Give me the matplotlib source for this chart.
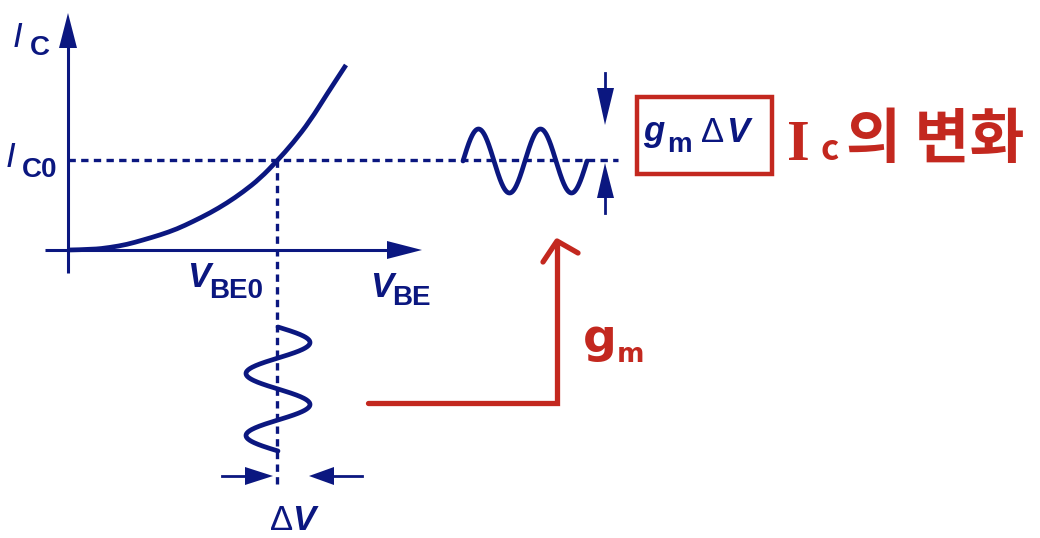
import numpy as np
import matplotlib
matplotlib.use("Agg")
import matplotlib.pyplot as plt
from matplotlib.patches import Polygon, Rectangle, PathPatch
from matplotlib.path import Path

# ---- data (diagram coordinates, pixels, y downward) ----
curve_x = [68, 93, 110, 127, 143, 160, 177, 193, 210, 227, 243, 260, 277, 293, 310, 327, 346]
curve_y = [250, 249.5, 247.5, 244.5, 240, 235, 229, 221.5, 213, 203, 192, 178.5, 161, 143, 121, 94, 65]
op_x, op_y = 277, 160          # operating point (VBE0, IC0)
wave_amp = 32                  # sine amplitude
wave_period = 62               # sine period
in_wave_start = 327            # vertical input wave start (y)
out_wave_start = 463           # horizontal output wave start (x)
n_periods = 2

BLUE = "#0b1780"
RED = "#c3281f"

fig = plt.figure(figsize=(10.4, 5.38), dpi=100)
ax = fig.add_axes([0, 0, 1, 1])
ax.set_xlim(0, 1040)
ax.set_ylim(538, 0)
ax.axis("off")

def tri(pts, color):
    ax.add_patch(Polygon(pts, closed=True, color=color, lw=0))

# axes
ax.plot([68, 68], [273, 45], color=BLUE, lw=2.2, solid_capstyle="butt")
tri([(59, 48), (77, 48), (68, 13)], BLUE)
ax.plot([45, 390], [250, 250], color=BLUE, lw=2.2, solid_capstyle="butt")
tri([(387, 241), (387, 259), (422, 250)], BLUE)

# dashed guide lines
dash = (0, (2.2, 1.6))
ax.plot([68, 618], [op_y, op_y], color=BLUE, lw=2.4, linestyle=dash, dash_capstyle="butt")
ax.plot([op_x, op_x], [op_y, 485], color=BLUE, lw=2.4, linestyle=dash, dash_capstyle="butt")

# I-V curve: smooth path drawn with the read points as quadratic control points
pts = list(zip(curve_x, curve_y))
verts = [pts[0]]
codes = [Path.MOVETO]
for i in range(1, len(pts) - 1):
    mid = ((pts[i][0] + pts[i + 1][0]) / 2, (pts[i][1] + pts[i + 1][1]) / 2)
    verts += [pts[i], mid]
    codes += [Path.CURVE3, Path.CURVE3]
verts.append(pts[-1])
codes.append(Path.LINETO)
ax.add_patch(PathPatch(Path(verts, codes), fill=False, edgecolor=BLUE, lw=3.4,
                       capstyle="butt", joinstyle="round"))

# input wave (vertical)
t = np.linspace(0, n_periods, 300)
ax.plot(op_x + 1 + wave_amp * np.sin(2 * np.pi * t), in_wave_start + wave_period * t,
        color=BLUE, lw=3.4, solid_capstyle="round")
# output wave (horizontal)
ax.plot(out_wave_start + wave_period * t, 161 - wave_amp * np.sin(2 * np.pi * t),
        color=BLUE, lw=3.4, solid_capstyle="round")

# output amplitude arrows
ax.plot([605, 605], [73, 95], color=BLUE, lw=2.0)
tri([(597, 88), (614, 88), (605, 125)], BLUE)
ax.plot([605, 605], [190, 213], color=BLUE, lw=2.0)
tri([(597, 198), (614, 198), (605, 163)], BLUE)

# input ΔV arrows
ax.plot([222, 250], [476, 476], color=BLUE, lw=2.0)
tri([(245, 467), (245, 485), (273, 476)], BLUE)
ax.plot([330, 362], [476, 476], color=BLUE, lw=2.0)
tri([(334, 467), (334, 485), (309, 476)], BLUE)

# labels
F = "Liberation Sans"
def lab(x, y, s, size, style="normal", weight="bold", color=BLUE, family=F):
    ax.text(x, y, s, fontsize=size, fontstyle=style, fontweight=weight, color=color,
            family=family, ha="left", va="baseline")

lab(13, 47, "I", 25, "italic", "normal")
lab(30, 55, "C", 20)
lab(6, 167, "I", 25, "italic", "normal")
lab(22, 177, "C0", 20)
lab(187, 287, "V", 25, "italic", "bold")
lab(209, 298, "BE0", 20)
lab(370, 297, "V", 25, "italic", "bold")
lab(392, 305, "BE", 20)
lab(270, 530, "Δ", 25, "normal", "normal")
lab(292, 530, "V", 25, "italic", "bold")

# output box
ax.add_patch(Rectangle((637, 97), 135, 77, fill=False, edgecolor=RED, lw=3.2))
lab(643, 141, "g", 25, "italic", "bold")
lab(667, 152, "m", 20)
lab(701, 142, "Δ", 25, "normal", "normal")
lab(726, 142, "V", 25, "italic", "bold")

# red gm path
ax.plot([368, 557, 557], [403, 403, 242], color=RED, lw=3.8,
        solid_capstyle="round", solid_joinstyle="miter")
ax.plot([543, 557, 578], [262, 241, 253], color=RED, lw=3.8,
        solid_capstyle="round", solid_joinstyle="round")
ax.text(583, 352, "g", fontsize=34, color=RED, family="DejaVu Sans", fontweight="bold",
        ha="left", va="baseline")
ax.text(617, 362, "m", fontsize=19, color=RED, family="DejaVu Sans", fontweight="bold",
        ha="left", va="baseline")

# Korean annotation
ax.text(787, 160, "I", fontsize=42, color=RED, family="Liberation Serif", fontweight="bold",
        ha="left", va="baseline")
ax.text(821, 160, "c", fontsize=25, color=RED, family="Noto Sans CJK KR", fontweight="bold",
        ha="left", va="baseline")
ax.text(846, 158, "의 변화", fontsize=43, color=RED, family="Noto Sans CJK KR", fontweight="bold",
        ha="left", va="baseline")

fig.savefig("out.png", dpi=100)
